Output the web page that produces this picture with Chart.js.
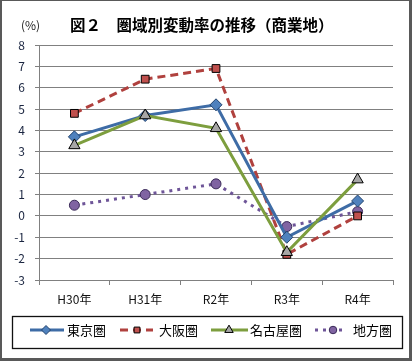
<!DOCTYPE html>
<html>
<head>
<meta charset="utf-8">
<script src="https://cdn.jsdelivr.net/npm/chart.js@4"></script>
<style>
html,body{margin:0;padding:0;background:#fff;}
#wrap{width:412px;height:361px;position:relative;}
</style>
</head>
<body>
<div id="wrap"><canvas id="c" width="412" height="361"></canvas></div>
<script>
const categories = ["H30年", "H31年", "R2年", "R3年", "R4年"];
const seriesNames = ["東京圏", "大阪圏", "名古屋圏", "地方圏"];
const tokyo  = [3.7, 4.7, 5.2, -1.0, 0.7];
const osaka  = [4.8, 6.4, 6.9, -1.8, 0.0];
const nagoya = [3.3, 4.7, 4.1, -1.7, 1.7];
const chiho  = [0.5, 1.0, 1.5, -0.5, 0.2];
const yTicks = [-3, -2, -1, 0, 1, 2, 3, 4, 5, 6, 7, 8];
const titleText = "図２　圏域別変動率の推移（商業地）";
const unitText = "(%)";

const FONT = "'Noto Sans CJK JP', 'Noto Sans', sans-serif";

const styles = [
  {color:'#3E6CA6', fill:'#4F81BD', border:'#24446E', style:'rectRot', r:6, dash:[]},
  {color:'#B0413E', fill:'#C0504D', border:'#000000', style:'rect', r:5.5, dash:[8,5]},
  {color:'#7D9E3E', fill:'#A6A6A6', border:'#000000', style:'triangle', r:6.5, dash:[]},
  {color:'#6E5598', fill:'#8064A2', border:'#3A2A58', style:'circle', r:5, dash:[3,5]}
];
const values = [tokyo, osaka, nagoya, chiho];

const datasets = values.map((v, i) => ({
  label: seriesNames[i],
  data: v,
  borderColor: styles[i].color,
  borderWidth: 3,
  borderDash: styles[i].dash,
  pointStyle: styles[i].style,
  pointRadius: styles[i].r,
  pointBackgroundColor: styles[i].fill,
  pointBorderColor: styles[i].border,
  pointBorderWidth: 1,
  tension: 0,
  fill: false,
  order: [2,3,1,4][i]
}));

const deco = {
  id: 'deco',
  beforeDraw(chart) {
    const ctx = chart.ctx;
    ctx.save();
    ctx.fillStyle = '#fff';
    ctx.fillRect(0, 0, 412, 361);
    ctx.restore();
  },
  afterDraw(chart) {
    const ctx = chart.ctx;
    ctx.save();
    // outer border
    ctx.fillStyle = '#595959';
    ctx.fillRect(0, 0, 412, 1);
    ctx.fillRect(0, 0, 2, 361);
    ctx.fillRect(409, 0, 3, 361);
    ctx.fillRect(0, 358, 412, 3);
    // title
    ctx.fillStyle = '#000';
    ctx.textBaseline = 'middle';
    ctx.textAlign = 'left';
    ctx.font = "bold 15.5px " + FONT;
    ctx.fillText(titleText, 70, 25);
    ctx.font = "12px " + FONT;
    ctx.fillStyle = '#222';
    ctx.fillText(unitText, 21, 25);
    // legend box
    ctx.strokeStyle = '#111';
    ctx.lineWidth = 1.3;
    ctx.strokeRect(12.5, 316.5, 390, 32);
    const ly = 330;
    const items = [
      {x0:30, x1:64, mx:46, tx:67},
      {x0:120, x1:153, mx:137, tx:159},
      {x0:211, x1:248, mx:229, tx:250},
      {x0:315, x1:346, mx:333, tx:353}
    ];
    items.forEach((it, i) => {
      const ds = chart.data.datasets[i];
      ctx.save();
      ctx.strokeStyle = ds.borderColor;
      ctx.lineWidth = 3;
      ctx.setLineDash(ds.borderDash);
      ctx.beginPath();
      ctx.moveTo(it.x0, ly);
      ctx.lineTo(it.x1, ly);
      ctx.stroke();
      ctx.setLineDash([]);
      ctx.fillStyle = ds.pointBackgroundColor;
      ctx.strokeStyle = ds.pointBorderColor;
      ctx.lineWidth = 1;
      Chart.helpers.drawPoint(ctx, {pointStyle: ds.pointStyle, radius: ds.pointRadius * 0.75, borderWidth: 1}, it.mx, ly);
      ctx.restore();
      ctx.fillStyle = '#000';
      ctx.font = "13px " + FONT;
      ctx.textBaseline = 'middle';
      ctx.textAlign = 'left';
      ctx.fillText(ds.label, it.tx, ly);
    });
    ctx.restore();
  }
};

new Chart(document.getElementById('c'), {
  type: 'line',
  data: { labels: categories, datasets: datasets },
  options: {
    responsive: false,
    animation: false,
    devicePixelRatio: 1,
    layout: { padding: { left: 0, right: 19, top: 45, bottom: 0 } },
    plugins: { legend: { display: false }, title: { display: false }, tooltip: { enabled: false } },
    scales: {
      x: {
        offset: true,
        grid: { offset: true, drawOnChartArea: false, drawTicks: true, tickLength: 5, color: '#808080', lineWidth: 1 },
        border: { color: '#808080', width: 1 },
        ticks: { color: '#111', font: { family: FONT, size: 12 }, padding: 7 },
        afterFit(s) { s.height = 81; }
      },
      y: {
        min: -3, max: 8,
        afterBuildTicks(s) { s.ticks = yTicks.map(v => ({ value: v })); },
        grid: { color: '#808080', lineWidth: 1, tickLength: 4 },
        border: { color: '#808080', width: 1 },
        ticks: { color: '#1a2540', font: { family: FONT, size: 12 }, padding: 10 },
        afterFit(s) { s.width = 39; }
      }
    }
  },
  plugins: [deco]
});
</script>
</body>
</html>
